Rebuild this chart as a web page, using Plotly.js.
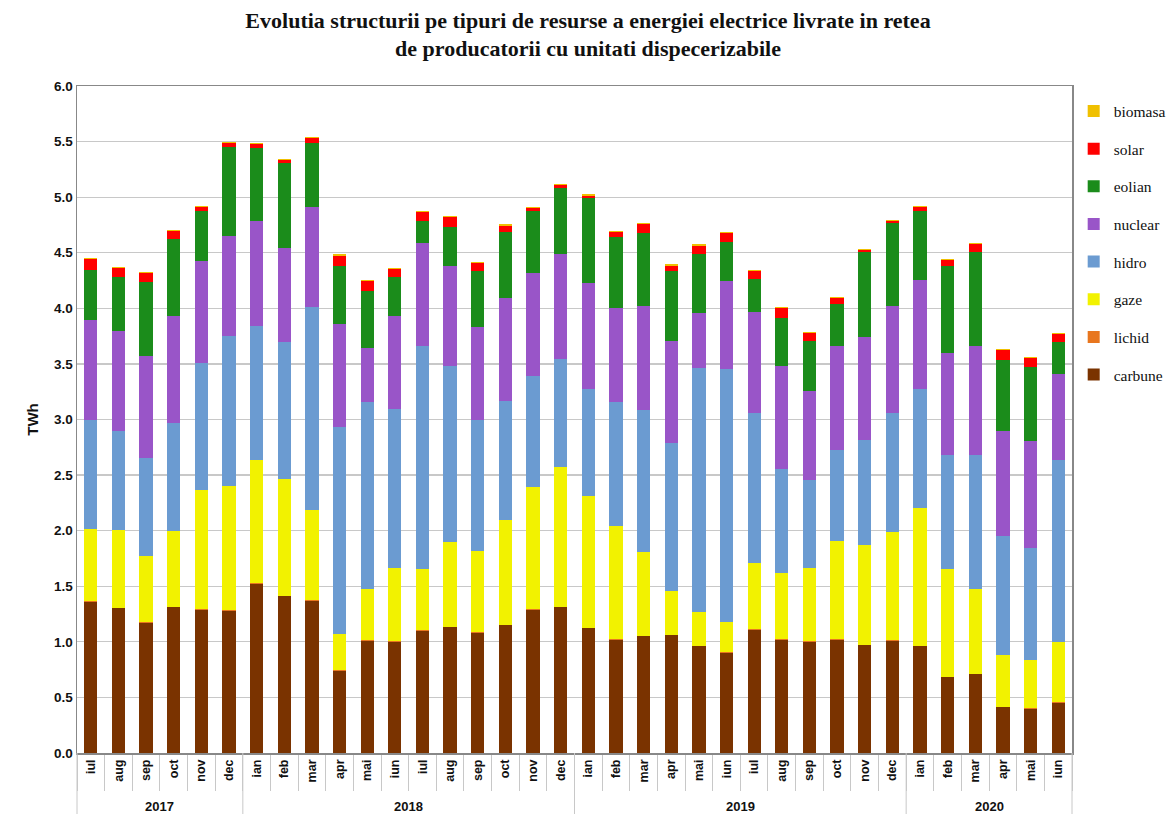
<!DOCTYPE html>
<html>
<head>
<meta charset="utf-8">
<script src="https://cdn.plot.ly/plotly-3.0.1.min.js"></script>
<style>html,body{margin:0;padding:0;background:#fff;}#chart{width:1176px;height:814px;}</style>
</head>
<body>
<div id="chart"></div>
<script>
const years = ["2017","2017","2017","2017","2017","2017",
  "2018","2018","2018","2018","2018","2018","2018","2018","2018","2018","2018","2018",
  "2019","2019","2019","2019","2019","2019","2019","2019","2019","2019","2019","2019",
  "2020","2020","2020","2020","2020","2020"];
const months = ["iul","aug","sep","oct","nov","dec",
  "ian","feb","mar","apr","mai","iun","iul","aug","sep","oct","nov","dec",
  "ian","feb","mar","apr","mai","iun","iul","aug","sep","oct","nov","dec",
  "ian","feb","mar","apr","mai","iun"];

const carbune = [1.36,1.30,1.17,1.31,1.29,1.28,1.52,1.41,1.37,0.74,1.01,1.00,1.10,1.13,1.08,1.15,1.29,1.31,1.12,1.02,1.05,1.06,0.96,0.90,1.11,1.02,1.00,1.02,0.97,1.01,0.96,0.68,0.71,0.41,0.40,0.45];
const lichid = [0.005,0.005,0.005,0.005,0.005,0.005,0.005,0.005,0.005,0.005,0.005,0.005,0.005,0.005,0.005,0.005,0.005,0.005,0.005,0.005,0.005,0.005,0.005,0.005,0.005,0.005,0.005,0.005,0.005,0.005,0.005,0.005,0.005,0.005,0.005,0.005];
const gaze = [0.65,0.70,0.60,0.68,1.07,1.12,1.11,1.05,0.81,0.33,0.46,0.66,0.55,0.76,0.73,0.94,1.10,1.26,1.19,1.02,0.75,0.39,0.30,0.27,0.59,0.59,0.66,0.88,0.90,0.97,1.24,0.97,0.76,0.47,0.43,0.54];
const hidro = [0.98,0.89,0.88,0.97,1.14,1.35,1.21,1.23,1.83,1.86,1.68,1.43,2.01,1.59,1.18,1.07,1.00,0.97,0.96,1.11,1.28,1.33,2.20,2.28,1.35,0.94,0.79,0.82,0.94,1.07,1.07,1.03,1.21,1.07,1.01,1.64];
const nuclear = [0.90,0.90,0.92,0.97,0.92,0.90,0.94,0.85,0.90,0.92,0.49,0.84,0.92,0.90,0.84,0.93,0.92,0.94,0.95,0.85,0.94,0.92,0.49,0.79,0.91,0.93,0.80,0.94,0.93,0.97,0.98,0.91,0.98,0.94,0.96,0.77];
const eolian = [0.45,0.49,0.66,0.69,0.45,0.80,0.66,0.76,0.57,0.53,0.51,0.35,0.20,0.35,0.50,0.59,0.56,0.60,0.77,0.64,0.65,0.63,0.53,0.35,0.30,0.43,0.45,0.37,0.76,0.74,0.62,0.79,0.84,0.64,0.67,0.29];
const solar = [0.10,0.08,0.08,0.07,0.04,0.03,0.03,0.03,0.05,0.09,0.09,0.07,0.08,0.09,0.07,0.06,0.03,0.02,0.02,0.04,0.08,0.05,0.08,0.08,0.07,0.09,0.07,0.06,0.02,0.02,0.04,0.05,0.07,0.09,0.08,0.07];
const biomasa = [0.01,0.01,0.01,0.01,0.01,0.01,0.01,0.01,0.01,0.01,0.01,0.01,0.01,0.01,0.01,0.01,0.01,0.01,0.01,0.01,0.01,0.01,0.01,0.01,0.01,0.01,0.01,0.01,0.01,0.01,0.01,0.01,0.01,0.01,0.01,0.01];

const seriesNames = ["carbune","lichid","gaze","hidro","nuclear","eolian","solar","biomasa"];
const seriesData = [carbune,lichid,gaze,hidro,nuclear,eolian,solar,biomasa];
const seriesColors = ["#7a3300","#e8761e","#f2f200","#6b9bd1","#9955c8","#1b8c1b","#ff0000","#f0c000"];

const keys = months.map((m,i)=>years[i]+"-"+m);

const traces = seriesNames.map((n,i)=>({
  type:"bar",
  name:n,
  x:keys,
  y:seriesData[i],
  legendgroup:n,
  legendrank:100 - i,
  marker:{color:seriesColors[i], line:{width:0}},
  hoverinfo:"y+name"
}));

const N = keys.length;
const annotations = [];
const shapes = [];
const uniqYears = [...new Set(years)];
uniqYears.forEach(y=>{
  const first = years.indexOf(y);
  const last = years.lastIndexOf(y);
  const center = ((first+last)/2 + 0.5)/N;
  annotations.push({
    text:"<b>"+y+"</b>", xref:"paper", yref:"paper", x:center, y:0,
    yshift:-44, xanchor:"center", yanchor:"top", showarrow:false,
    font:{family:"Liberation Sans, Arial, sans-serif", size:13, color:"#111"}
  });
  if (first>0) {
    shapes.push({type:"line", xref:"paper", yref:"paper", x0:first/N, x1:first/N, y0:0, y1:-0.095,
      line:{color:"#c8c8c8", width:1}});
  }
});
shapes.push({type:"line", xref:"paper", yref:"paper", x0:0, x1:0, y0:0, y1:-0.095, line:{color:"#c8c8c8", width:1}});
shapes.push({type:"line", xref:"paper", yref:"paper", x0:1, x1:1, y0:0, y1:-0.095, line:{color:"#c8c8c8", width:1}});

const layout = {
  width:1176, height:814,
  barmode:"stack",
  bargap:0.52,
  paper_bgcolor:"#fff", plot_bgcolor:"#fff",
  margin:{l:77, r:104, t:86, b:61},
  title:{
    text:"<b>Evolutia structurii pe tipuri de resurse a energiei electrice livrate in retea<br>de producatorii cu unitati dispecerizabile</b>",
    font:{family:"Liberation Serif, Times New Roman, serif", size:22, color:"#111"},
    x:0.5, xanchor:"center", yref:"container", y:0.966, yanchor:"middle"
  },
  xaxis:{
    type:"category",
    range:[-0.5, N-0.5],
    tickvals:keys, ticktext:months,
    tickangle:-90,
    tickfont:{family:"Liberation Sans, Arial, sans-serif", size:12.5, color:"#111", weight:"bold"},
    showline:true, linecolor:"#888", linewidth:1.5,
    ticks:"outside", tickson:"boundaries", ticklen:36, tickcolor:"#c8c8c8", tickwidth:1,
    showgrid:false, automargin:false, mirror:true
  },
  yaxis:{
    range:[0,6], dtick:0.5, tickformat:".1f",
    tickfont:{family:"Liberation Sans, Arial, sans-serif", size:13.5, color:"#111", weight:"bold"},
    title:{text:"<b>TWh</b>", font:{family:"Liberation Sans, Arial, sans-serif", size:15, color:"#111"}, standoff:12},
    showgrid:true, gridcolor:"#c8c8c8", gridwidth:1.2,
    showline:true, linecolor:"#888", linewidth:1.5, mirror:true,
    zeroline:false, ticks:"", automargin:false
  },
  legend:{
    xref:"container", yref:"container",
    x:0.913, xanchor:"left", y:0.884, yanchor:"top",
    traceorder:"grouped",
    tracegroupgap:14.5,
    font:{family:"Liberation Serif, Times New Roman, serif", size:15.5, color:"#111"},
    itemwidth:30
  },
  annotations:annotations,
  shapes:shapes,
  showlegend:true
};

Plotly.newPlot("chart", traces, layout, {displayModeBar:false, staticPlot:true});
</script>
</body>
</html>
